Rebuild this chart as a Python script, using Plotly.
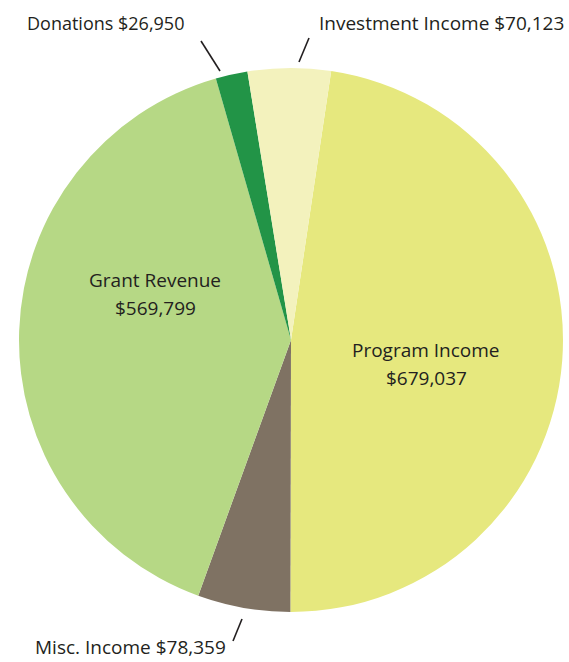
import plotly.graph_objects as go

categories = ["Program Income", "Misc. Income", "Grant Revenue", "Donations", "Investment Income"]
values = [679037, 78359, 569799, 26950, 70123]
colors = ["#e6e87e", "#7f7263", "#b6d885", "#229447", "#f3f2bd"]

W, H = 569, 662
FONT = "Open Sans"
TXT = "#231f20"

def fmt(v):
    return "${:,}".format(v)

fig = go.Figure(go.Pie(
    labels=categories,
    values=values,
    marker=dict(colors=colors, line=dict(width=0)),
    sort=False,
    direction="clockwise",
    rotation=8.5,
    textinfo="none",
    hoverinfo="label+value",
    showlegend=False,
    domain=dict(x=[19 / W, 563 / W], y=[(H - 612) / H, (H - 68) / H]),
))

def px(x, y):
    return x / W, 1 - y / H

ann = []
# inside labels (two lines each, placed separately for line spacing)
for name, val, (x, y) in [("Grant Revenue", values[2], (155, 280)),
                          ("Program Income", values[0], (426, 350))]:
    for i, t in enumerate([name, fmt(val)]):
        ax, ay = px(x, y + 28 * i)
        ann.append(dict(x=ax, y=ay, xref="paper", yref="paper", showarrow=False,
                        xanchor="center", yanchor="middle", text=t,
                        font=dict(family=FONT, size=19, color=TXT)))
# outside labels
for name, val, (x, y), anchor, fs in [("Donations", values[3], (25, 23), "left", 18),
                                      ("Investment Income", values[4], (566, 23), "right", 19),
                                      ("Misc. Income", values[1], (228, 647), "right", 19)]:
    ax, ay = px(x, y)
    ann.append(dict(x=ax, y=ay, xref="paper", yref="paper", showarrow=False,
                    xanchor=anchor, yanchor="middle",
                    text=f"{name} {fmt(val)}",
                    font=dict(family=FONT, size=fs, color=TXT)))

shapes = []
for (x0, y0, x1, y1) in [(201, 41, 220, 71), (309, 38, 299, 62), (242, 619, 233, 641)]:
    a0, b0 = px(x0, y0)
    a1, b1 = px(x1, y1)
    shapes.append(dict(type="line", xref="paper", yref="paper", x0=a0, y0=b0, x1=a1, y1=b1,
                       line=dict(color=TXT, width=1.6)))

fig.update_layout(
    width=W, height=H,
    margin=dict(l=0, r=0, t=0, b=0),
    paper_bgcolor="white", plot_bgcolor="white",
    annotations=ann, shapes=shapes,
)

fig.write_html("out.html", config=dict(displayModeBar=False),
               post_script="document.body.style.margin='0';document.body.style.overflow='hidden';")
